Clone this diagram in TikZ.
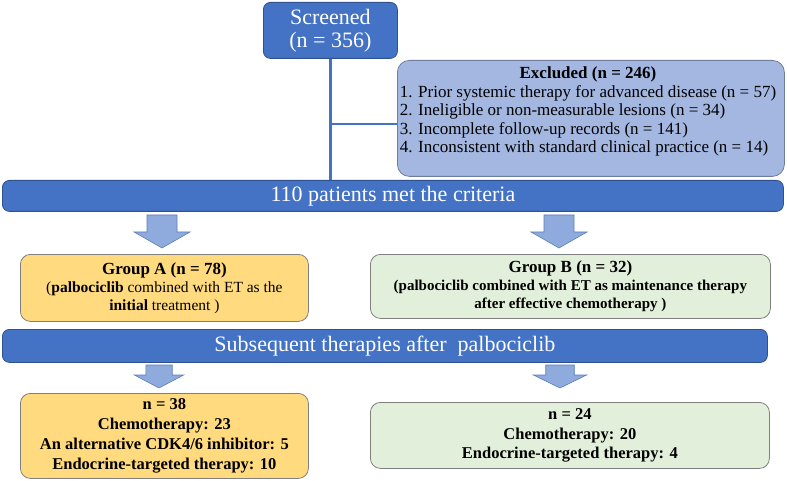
\documentclass[tikz,border=0pt]{standalone}
\usepackage{fontspec}
\setmainfont{Liberation Serif}
\definecolor{barblue}{HTML}{4472C4}
\definecolor{bardark}{HTML}{2F528F}
\definecolor{exclfill}{HTML}{A3B7E1}
\definecolor{exclline}{HTML}{6E7E9A}
\definecolor{arrowfill}{HTML}{8FAADC}
\definecolor{arrowline}{HTML}{5B7DB8}
\definecolor{yellowfill}{HTML}{FFDA7E}
\definecolor{greenfill}{HTML}{E2EFDA}
\definecolor{boxline}{HTML}{7F7F7F}
\tikzset{
  bluebox/.style={draw=bardark, line width=0.8pt, fill=barblue, text=white, rounded corners=7pt, anchor=north west, inner sep=0pt, align=center},
  exclbox/.style={draw=exclline, line width=0.8pt, fill=exclfill, rounded corners=12pt, anchor=north west, inner sep=0pt},
  groupbox/.style={draw=boxline, line width=0.8pt, rounded corners=10pt, anchor=north west, inner sep=0pt, align=center},
  flowline/.style={draw=barblue, line width=2.6pt},
  blockarrow/.style={draw=arrowline, line width=0.6pt, fill=arrowfill}
}
\newcommand{\downarrowblock}[5]{% x, ytop, yhead, ytip, scale of halfwidths
  \path[blockarrow] (#1-#5*15,#2) -- (#1+#5*15,#2) -- (#1+#5*15,#3) -- (#1+#5*28,#3) -- (#1,#4) -- (#1-#5*28,#3) -- (#1-#5*15,#3) -- cycle;}
\newcommand{\grouptitle}[1]{{\fontsize{17}{18}\selectfont\bfseries #1}}
\begin{document}
\begin{tikzpicture}[x=1pt,y=-1pt]
\useasboundingbox (0,0) rectangle (787,481);
% nodes
\node[bluebox, minimum width=134pt, minimum height=56pt, font=\fontsize{22}{23}\selectfont] (scr) at (263,2)
  {Screened\\(n = 356)};
\node[exclbox, minimum width=387pt, minimum height=116pt] (exc) at (397,60) {};
\node[anchor=center, inner sep=0pt, font=\fontsize{17}{18.4}\selectfont] (exctext) at (588,112)
  {\begin{tabular}{@{}l@{}}
   \multicolumn{1}{@{}c@{}}{\textbf{Excluded (n = 246)}}\\
   1. Prior systemic therapy for advanced disease (n = 57)\\
   2. Ineligible or non-measurable lesions (n = 34)\\
   3. Incomplete follow-up records (n = 141)\\
   4. Inconsistent with standard clinical practice (n = 14)
   \end{tabular}};
\node[bluebox, minimum width=781pt, minimum height=31pt, font=\fontsize{22}{24}\selectfont] (bar1) at (2,180)
  {110 patients met the criteria};
\node[groupbox, fill=yellowfill, minimum width=288pt, minimum height=67pt, font=\fontsize{15.5}{18}\selectfont] (ga) at (20,254)
  {\grouptitle{Group A (n = 78)}\\
   (\textbf{palbociclib} combined with ET as the\\
   \textbf{initial} treatment )};
\node[groupbox, fill=greenfill, minimum width=400pt, minimum height=64pt, font=\fontsize{15}{18}\selectfont\bfseries] (gb) at (370,254)
  {\grouptitle{Group B (n = 32)}\\
   (palbociclib combined with ET as maintenance therapy\\
   after effective chemotherapy )};
\node[bluebox, minimum width=765pt, minimum height=33pt, font=\fontsize{22}{24}\selectfont] (bar2) at (2,329)
  {Subsequent therapies after\ \ palbociclib};
\node[groupbox, fill=yellowfill, minimum width=288pt, minimum height=85pt, font=\fontsize{16.5}{20}\selectfont\bfseries] (a2) at (20,393)
  {n = 38\\Chemotherapy: 23\\An alternative CDK4/6 inhibitor: 5\\Endocrine-targeted therapy: 10};
\node[groupbox, fill=greenfill, minimum width=399pt, minimum height=66pt, font=\fontsize{16.5}{19.5}\selectfont\bfseries] (b2) at (370,402)
  {n = 24\\Chemotherapy: 20\\Endocrine-targeted therapy: 4};
% connectors
\coordinate (branch) at (scr.south |- 0,124);
\draw[flowline] (scr.south) -- (scr.south |- bar1.north);
\draw[flowline] (branch) -- (branch -| exc.west);
% block arrows
\downarrowblock{162}{215}{232}{248}{1}
\downarrowblock{559}{215}{232}{248}{1}
\downarrowblock{159}{365}{375}{388}{0.88}
\downarrowblock{560}{365}{375}{388}{0.95}
\end{tikzpicture}
\end{document}
